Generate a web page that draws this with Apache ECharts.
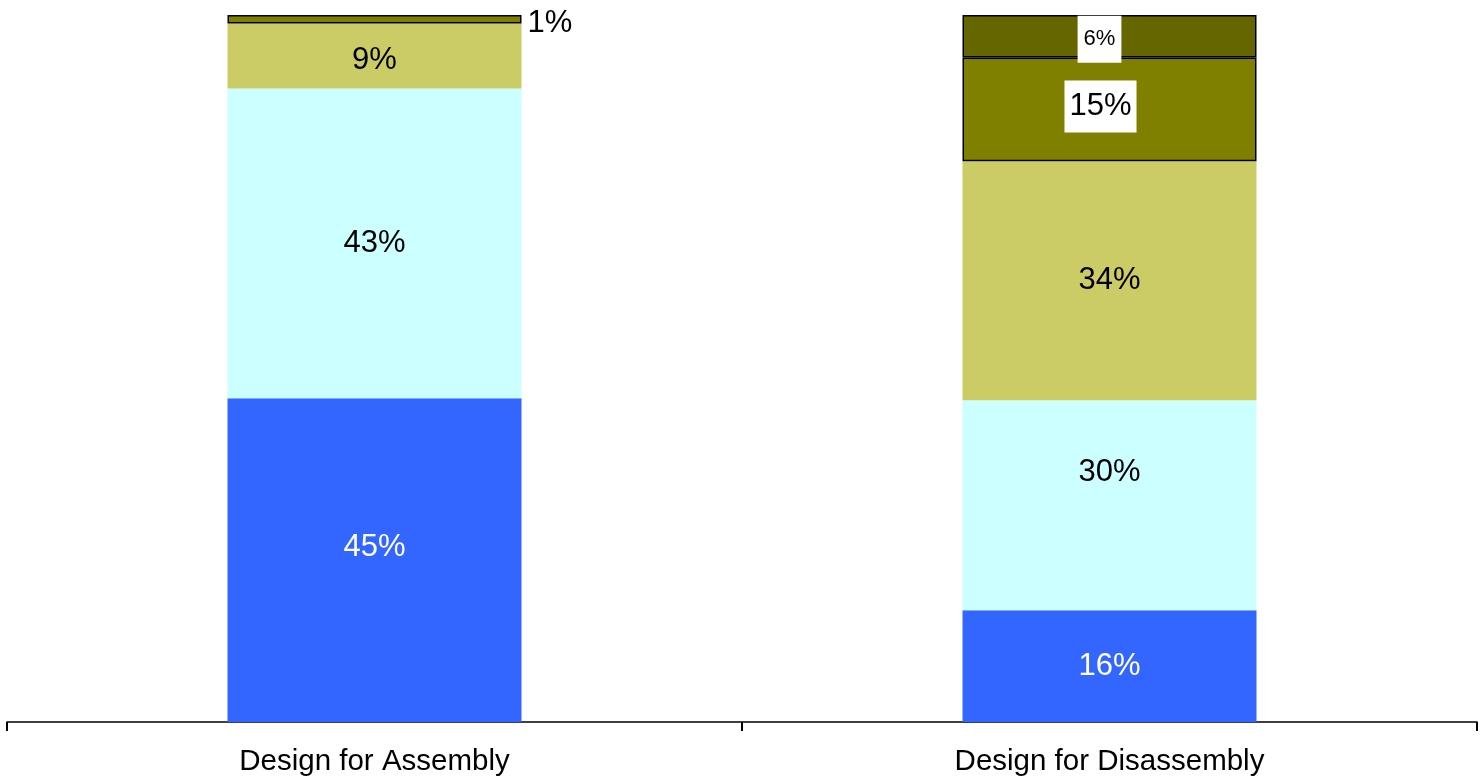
<!DOCTYPE html>
<html>
<head>
<meta charset="utf-8">
<script src="https://cdn.jsdelivr.net/npm/echarts@6/dist/echarts.min.js"></script>
<style>
html,body{margin:0;padding:0;background:#fff;}
#chart{width:1480px;height:779px;}
</style>
</head>
<body>
<div id="chart"></div>
<script>
// Categories
const categories = ['Design for Assembly', 'Design for Disassembly'];
// Segment shares (% of bar height), bottom to top
const seriesNames = ['S1', 'S2', 'S3', 'S4', 'S5'];
const s1Values = [45.8, 15.8];
const s2Values = [43.8, 29.7];
const s3Values = [9.2, 33.8];
const s4Values = [1.2, 14.7];
const s5Values = [null, 6.0];
// Printed labels
const s1Labels = ['45%', '16%'];
const s2Labels = ['43%', '30%'];
const s3Labels = ['9%', '34%'];
const s4Labels = ['1%', '15%'];
const s5Labels = ['', '6%'];

const colors = ['#3366FF', '#CCFFFF', '#CCCC66', '#808000', '#666600'];
const valueSets = [s1Values, s2Values, s3Values, s4Values, s5Values];
const labelSets = [s1Labels, s2Labels, s3Labels, s4Labels, s5Labels];
const FONT = 'Liberation Sans, Arial, sans-serif';

// per-point label tweaks (style only)
const labelTweaks = {
  '0-0': {offset: [0, -13]},
  '1-1': {offset: [0, -33]},
  '2-0': {offset: [0, 4]},
  '3-0': {position: 'right', distance: 6, color: '#000', offset: [0, 4]},
  '3-1': {backgroundColor: '#fff', padding: [11, 5, 10, 5], offset: [-9, -3]},
  '4-1': {backgroundColor: '#fff', padding: [13, 6, 12, 6], fontSize: 22, offset: [-10, 3]}
};

const series = valueSets.map((vals, si) => ({
  name: seriesNames[si],
  type: 'bar',
  stack: 'total',
  barWidth: '40%',
  itemStyle: {
    color: colors[si],
    borderColor: si >= 3 ? '#000' : 'transparent',
    borderWidth: si >= 3 ? 1.5 : 0
  },
  label: {
    show: true,
    position: 'inside',
    fontFamily: FONT,
    fontSize: 31,
    color: si === 0 ? '#fff' : '#000',
    formatter: p => labelSets[si][p.dataIndex]
  },
  emphasis: {disabled: true},
  data: vals.map((v, di) => {
    const t = labelTweaks[si + '-' + di];
    return t ? {value: v, label: t} : {value: v};
  })
}));

const chart = echarts.init(document.getElementById('chart'), null, {renderer: 'canvas'});
chart.setOption({
  animation: false,
  backgroundColor: '#fff',
  grid: {left: 7, right: 3, top: 15, bottom: 57, containLabel: false},
  xAxis: {
    type: 'category',
    data: categories,
    boundaryGap: true,
    axisLine: {lineStyle: {color: '#000', width: 1.5}},
    axisTick: {show: true, length: 9, lineStyle: {color: '#000', width: 2}, alignWithLabel: false},
    axisLabel: {color: '#000', fontFamily: FONT, fontSize: 29.5, margin: 25}
  },
  yAxis: {
    type: 'value',
    min: 0,
    max: 100,
    show: false,
    splitLine: {show: false}
  },
  series: series
});
</script>
</body>
</html>
